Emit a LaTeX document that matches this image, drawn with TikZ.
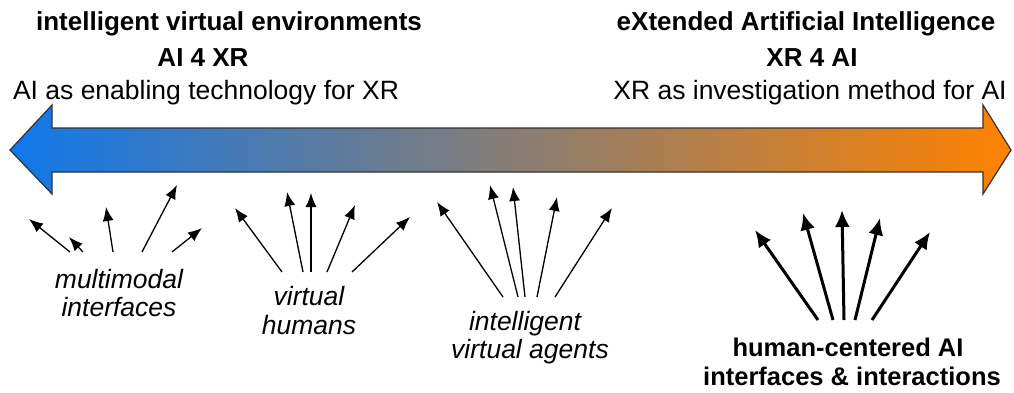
\documentclass[tikz,border=0pt]{standalone}
\usepackage{fontspec}
\setmainfont{Liberation Sans}
\usetikzlibrary{arrows.meta}
\definecolor{xblue}{RGB}{15,120,235}
\definecolor{xmid}{RGB}{135,125,128}
\definecolor{xorange}{RGB}{255,130,0}
\begin{document}
\begin{tikzpicture}[x=1pt,y=-1pt,
  hdr/.style={font=\fontsize{26}{30}\selectfont\bfseries, anchor=base, inner sep=0pt},
  sub/.style={font=\fontsize{26.5}{30}\selectfont, anchor=base, inner sep=0pt},
  lbl/.style={font=\fontsize{26.5}{30}\selectfont\itshape, anchor=base, inner sep=0pt},
  bl/.style={font=\fontsize{25.5}{30}\selectfont\bfseries, anchor=base, inner sep=0pt},
  ptr/.style={line width=1.3pt, -{Latex[length=14pt,width=11pt]}},
  bigptr/.style={line width=3pt, -{Latex[length=17pt,width=15pt]}},
  band/.style={left color=xblue, middle color=xmid, right color=xorange, draw=black!80, line width=1.2pt, line join=miter}]
\useasboundingbox (0,0) rectangle (1014,392);

% headers
\node[hdr] (h1) at (229,30) {intelligent virtual environments};
\node[hdr] (h2) at (203,66) {AI 4 XR};
\node[sub] (h3) at (206,99) {AI as enabling technology for XR};
\node[hdr] (r1) at (806,30) {eXtended Artificial Intelligence};
\node[hdr] (r2) at (812,66) {XR 4 AI};
\node[sub] (r3) at (810,99) {XR as investigation method for AI};

% double arrow band
\draw[band] (10,150) -- (52,105) -- (52,128) -- (983,128) -- (983,105) -- (1011,150)
  -- (983,194) -- (983,172) -- (52,172) -- (52,194) -- cycle;

% labels
\node[lbl] (mm1) at (119,288) {multimodal};
\node[lbl] (mm2) at (119,316) {interfaces};
\node[lbl] (vh1) at (309,305) {virtual};
\node[lbl] (vh2) at (309,334) {humans};
\node[lbl] (ia1) at (525,330) {intelligent};
\node[lbl] (ia2) at (530,358) {virtual agents};
\node[bl] (hc1) at (848,356) {human-centered AI};
\node[bl] (hc2) at (852,385) {interfaces \& interactions};

% arrows
\foreach \n/\sx/\sy/\ex/\ey in {
  a1/70/252/29/219, a2/83/252/69/237, a3/113/252/106/207, a4/142/252/177/185, a5/172/252/202/228,
  b1/282/272/235/208, b2/303/272/287/192, b3/311/272/311/193, b4/327/272/355/205, b5/352/272/410/217,
  c1/503/297/437/202, c2/518/297/490/185, c3/525/297/513/187, c4/537/297/557/197, c5/555/297/612/208}
{
  \coordinate (s\n) at (\sx,\sy);
  \coordinate (e\n) at (\ex,\ey);
  \draw[ptr] (s\n) -- (e\n);
}
\foreach \n/\sx/\sy/\ex/\ey in {
  d1/818/320/755/230, d2/833/320/803/213, d3/844/320/842/210, d4/855/320/880/218, d5/872/320/930/232}
{
  \coordinate (s\n) at (\sx,\sy);
  \coordinate (e\n) at (\ex,\ey);
  \draw[bigptr] (s\n) -- (e\n);
}
\end{tikzpicture}
\end{document}
